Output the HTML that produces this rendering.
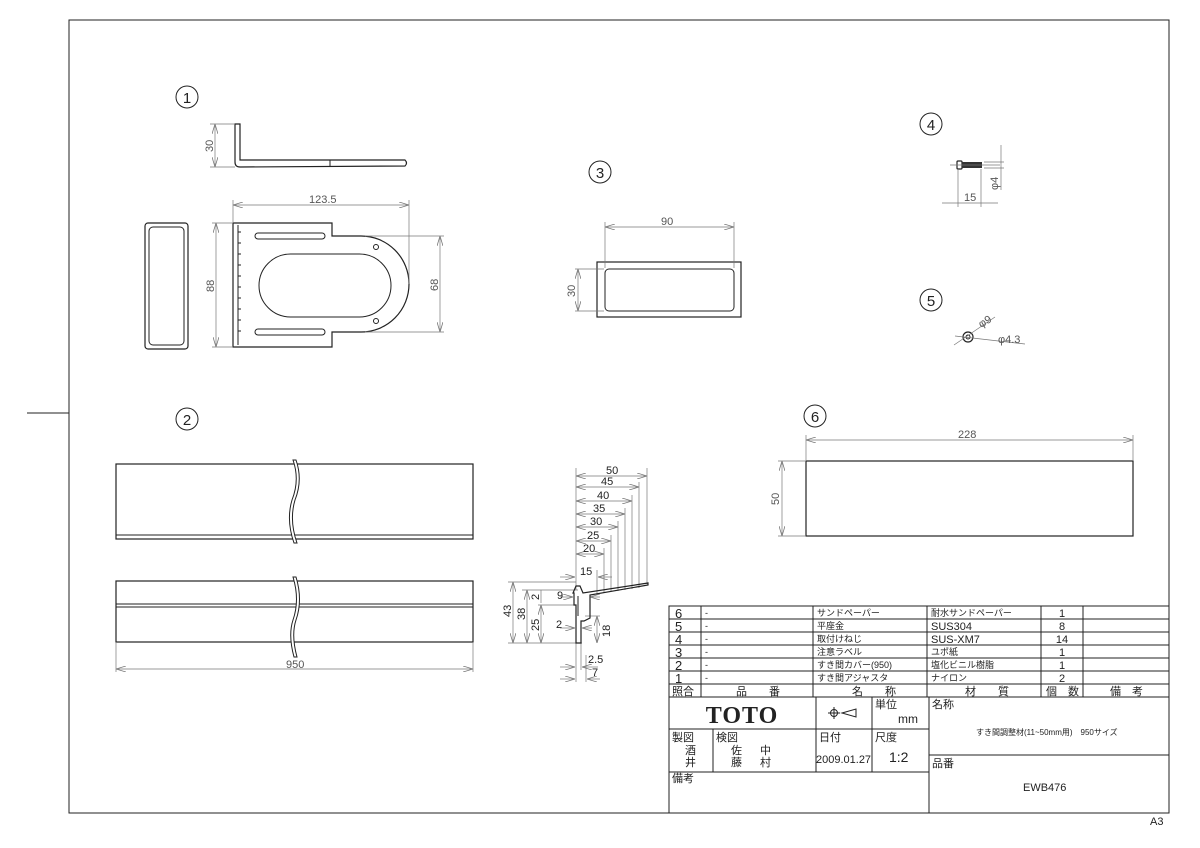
<!DOCTYPE html>
<html><head><meta charset="utf-8"><style>
html,body{margin:0;padding:0;background:#fff}
svg{display:block}
text{font-family:"Liberation Sans","Noto Sans CJK JP",sans-serif;fill:#222}
.d{stroke:#777;stroke-width:0.7;fill:none}
.k{stroke:#222;stroke-width:1.2;fill:none}
.t{stroke:#222;stroke-width:1;fill:none}
.dt{font-size:11px;fill:#555}
.tb{font-size:9px}
</style></head><body>
<svg width="1200" height="848" viewBox="0 0 1200 848">
<defs>
<marker id="a" viewBox="0 0 10 6" refX="10" refY="3" markerWidth="10" markerHeight="6" orient="auto-start-reverse" markerUnits="userSpaceOnUse"><path d="M0,0 L10,3 L0,6" fill="none" stroke="#777" stroke-width="0.8"/></marker>
</defs>
<rect x="69" y="20" width="1100" height="793" fill="none" stroke="#222" stroke-width="1"/>
<line x1="27" y1="413" x2="69" y2="413" stroke="#222"/>
<text x="1150" y="825" font-size="11">A3</text>

<g class="t"><circle cx="187" cy="97" r="11"/><circle cx="187" cy="419" r="11"/><circle cx="600" cy="172" r="11"/><circle cx="931" cy="124" r="11"/><circle cx="931" cy="300" r="11"/><circle cx="815" cy="416" r="11"/></g>
<g font-size="15" text-anchor="middle"><text x="187" y="103">1</text><text x="187" y="425">2</text><text x="600" y="178">3</text><text x="931" y="130">4</text><text x="931" y="306">5</text><text x="815" y="422">6</text></g>

<path class="k" d="M235,124 L240,124 L240,160 L405,160 Q408,163 405,166 L240,167 Q235,167 235,162 Z"/>
<line class="t" x1="330" y1="160" x2="330" y2="167"/>
<line class="d" x1="210" y1="124" x2="235" y2="124"/><line class="d" x1="210" y1="167" x2="235" y2="167"/>
<line class="d" x1="215" y1="124" x2="215" y2="167" marker-start="url(#a)" marker-end="url(#a)"/>
<text class="dt" transform="translate(213,152) rotate(-90)">30</text>
<path class="k" d="M233,223 L332,223 L332,236 L361,236 A48,48 0 0 1 361,332 L332,332 L332,347 L233,347 Z"/>
<path class="t" d="M238,225 L238,345" />
<g class="t"><path d="M238,232 h3 M238,243 h3 M238,254 h3 M238,265 h3 M238,276 h3 M238,287 h3 M238,298 h3 M238,309 h3 M238,320 h3 M238,331 h3"/></g>
<rect class="t" x="255" y="233" width="70" height="6" rx="3"/>
<rect class="t" x="255" y="329" width="70" height="6" rx="3"/>
<rect class="t" x="259" y="254" width="132" height="63" rx="31.5"/>
<circle class="t" cx="376" cy="247" r="2.5"/><circle class="t" cx="376" cy="321" r="2.5"/>
<line class="d" x1="233" y1="200" x2="233" y2="222"/><line class="d" x1="409" y1="200" x2="409" y2="284"/>
<line class="d" x1="233" y1="205" x2="409" y2="205" marker-start="url(#a)" marker-end="url(#a)"/>
<text class="dt" x="309" y="203">123.5</text>
<line class="d" x1="212" y1="223" x2="232" y2="223"/><line class="d" x1="212" y1="347" x2="232" y2="347"/>
<line class="d" x1="216" y1="223" x2="216" y2="347" marker-start="url(#a)" marker-end="url(#a)"/>
<text class="dt" transform="translate(214,292) rotate(-90)">88</text>
<line class="d" x1="365" y1="236" x2="444" y2="236"/><line class="d" x1="365" y1="332" x2="444" y2="332"/>
<line class="d" x1="440" y1="236" x2="440" y2="332" marker-start="url(#a)" marker-end="url(#a)"/>
<text class="dt" transform="translate(438,291) rotate(-90)">68</text>
<rect class="k" x="145" y="223" width="43" height="126" rx="3"/>
<rect class="t" x="149" y="227" width="35" height="118" rx="4"/>

<rect class="k" x="597" y="262" width="144" height="55"/>
<rect class="t" x="605" y="269" width="129" height="42" rx="4"/>
<line class="d" x1="605" y1="222" x2="605" y2="268"/><line class="d" x1="734" y1="222" x2="734" y2="268"/>
<line class="d" x1="605" y1="227" x2="734" y2="227" marker-start="url(#a)" marker-end="url(#a)"/>
<text class="dt" x="661" y="225">90</text>
<line class="d" x1="575" y1="269" x2="604" y2="269"/><line class="d" x1="575" y1="311" x2="604" y2="311"/>
<line class="d" x1="578" y1="269" x2="578" y2="311" marker-start="url(#a)" marker-end="url(#a)"/>
<text class="dt" transform="translate(575,297) rotate(-90)">30</text>

<rect class="k" x="957" y="161" width="5" height="8" rx="1"/>
<rect x="962" y="162" width="20" height="6" fill="#333"/>
<line class="d" x1="950" y1="165" x2="1000" y2="165"/>
<line class="d" x1="958" y1="169" x2="958" y2="207"/><line class="d" x1="981" y1="169" x2="981" y2="207"/>
<line class="d" x1="942" y1="203" x2="998" y2="203"/>
<text class="dt" x="964" y="201">15</text>
<line class="d" x1="984" y1="162" x2="1004" y2="162"/><line class="d" x1="984" y1="168" x2="1004" y2="168"/>
<line class="d" x1="1001" y1="145" x2="1001" y2="190"/>
<text class="dt" transform="translate(998,190) rotate(-90)">φ4</text>

<circle class="k" cx="968" cy="337" r="5"/><circle class="t" cx="968" cy="337" r="2"/>
<line class="d" x1="954" y1="345" x2="995" y2="317"/>
<line class="d" x1="955" y1="336" x2="1025" y2="344"/>
<text class="dt" transform="translate(981,328) rotate(-30)">φ9</text>
<text class="dt" x="998" y="343">φ4.3</text>

<rect class="k" x="806" y="461" width="327" height="75"/>
<line class="d" x1="806" y1="435" x2="806" y2="460"/><line class="d" x1="1133" y1="435" x2="1133" y2="460"/>
<line class="d" x1="806" y1="440" x2="1133" y2="440" marker-start="url(#a)" marker-end="url(#a)"/>
<text class="dt" x="958" y="438">228</text>
<line class="d" x1="778" y1="461" x2="805" y2="461"/><line class="d" x1="778" y1="536" x2="805" y2="536"/>
<line class="d" x1="782" y1="461" x2="782" y2="536" marker-start="url(#a)" marker-end="url(#a)"/>
<text class="dt" transform="translate(779,505) rotate(-90)">50</text>

<rect class="k" x="116" y="464" width="357" height="75"/>
<line class="t" x1="116" y1="535" x2="473" y2="535"/>
<rect class="k" x="116" y="581" width="357" height="61"/>
<line class="t" x1="116" y1="604" x2="473" y2="604"/><line class="t" x1="116" y1="607" x2="473" y2="607"/>
<g fill="#fff" stroke="#222" stroke-width="1">
<path d="M293,460 Q300,480 292,500 Q286,520 294,543 L297,543 Q289,520 295,500 Q303,480 296,460 Z"/>
<path d="M293,577 Q300,600 293,620 Q288,635 294,657 L297,657 Q291,635 296,620 Q303,600 296,577 Z"/>
</g>
<line class="d" x1="116" y1="669" x2="473" y2="669" marker-start="url(#a)" marker-end="url(#a)"/>
<line class="d" x1="116" y1="642" x2="116" y2="672"/><line class="d" x1="473" y1="642" x2="473" y2="672"/>
<text class="dt" x="286" y="668">950</text>

<g class="d">
<line x1="576" y1="468" x2="576" y2="590"/>
<line x1="576" y1="476" x2="647" y2="476" marker-start="url(#a)" marker-end="url(#a)"/>
<line x1="576" y1="487" x2="639" y2="487" marker-start="url(#a)" marker-end="url(#a)"/>
<line x1="576" y1="501" x2="632" y2="501" marker-start="url(#a)" marker-end="url(#a)"/>
<line x1="576" y1="514" x2="625" y2="514" marker-start="url(#a)" marker-end="url(#a)"/>
<line x1="576" y1="527" x2="618" y2="527" marker-start="url(#a)" marker-end="url(#a)"/>
<line x1="576" y1="541" x2="611" y2="541" marker-start="url(#a)" marker-end="url(#a)"/>
<line x1="576" y1="554" x2="604" y2="554" marker-start="url(#a)" marker-end="url(#a)"/>
<line x1="560" y1="577" x2="575" y2="577" marker-end="url(#a)"/><line x1="612" y1="577" x2="598" y2="577" marker-end="url(#a)"/>
<line x1="647" y1="468" x2="647" y2="584"/><line x1="639" y1="482" x2="639" y2="588"/><line x1="632" y1="495" x2="632" y2="589"/>
<line x1="625" y1="508" x2="625" y2="590"/><line x1="618" y1="521" x2="618" y2="591"/><line x1="611" y1="535" x2="611" y2="592"/>
<line x1="604" y1="548" x2="604" y2="593"/><line x1="597" y1="570" x2="597" y2="594"/>
<line x1="508" y1="582" x2="576" y2="582"/><line x1="522" y1="590" x2="578" y2="590"/><line x1="538" y1="605" x2="576" y2="605"/><line x1="508" y1="643" x2="582" y2="643"/>
<line x1="513" y1="582" x2="513" y2="643" marker-start="url(#a)" marker-end="url(#a)"/>
<line x1="527" y1="590" x2="527" y2="643" marker-start="url(#a)" marker-end="url(#a)"/>
<line x1="541" y1="605" x2="541" y2="643" marker-start="url(#a)" marker-end="url(#a)"/>
<line x1="541" y1="590" x2="541" y2="603"/>
<line x1="560" y1="597" x2="573" y2="597" marker-end="url(#a)"/><line x1="600" y1="597" x2="590" y2="597" marker-end="url(#a)"/>
<line x1="560" y1="628" x2="575" y2="628" marker-end="url(#a)"/><line x1="592" y1="628" x2="582" y2="628" marker-end="url(#a)"/>
<line x1="585" y1="616" x2="600" y2="616"/><line x1="597" y1="616" x2="597" y2="643" marker-start="url(#a)" marker-end="url(#a)"/>
<line x1="576" y1="643" x2="576" y2="682"/><line x1="581" y1="643" x2="581" y2="670"/><line x1="586" y1="655" x2="586" y2="682"/>
<line x1="560" y1="667" x2="575" y2="667" marker-end="url(#a)"/><line x1="598" y1="667" x2="582" y2="667" marker-end="url(#a)"/>
<line x1="560" y1="679" x2="575" y2="679" marker-end="url(#a)"/><line x1="600" y1="679" x2="587" y2="679" marker-end="url(#a)"/>
</g>
<path class="k" d="M576,586 L580,586 L583,593 L648,583 L648,585 L590,595 L590,618 L584,621 L581,621 L581,643 L576,643 L576,605 L574,605 L574,593 L573,593 Z"/>
<line class="t" x1="578" y1="596" x2="578" y2="616"/>
<g class="dt" font-size="10">
<text x="606" y="474">50</text><text x="601" y="485">45</text><text x="597" y="499">40</text><text x="593" y="512">35</text><text x="590" y="525">30</text><text x="587" y="539">25</text><text x="583" y="552">20</text><text x="580" y="575">15</text>
<text transform="translate(511,617) rotate(-90)">43</text><text transform="translate(525,620) rotate(-90)">38</text><text transform="translate(539,631) rotate(-90)">25</text><text transform="translate(539,600) rotate(-90)">2</text>
<text x="557" y="599">9</text><text x="556" y="628">2</text><text transform="translate(610,637) rotate(-90)">18</text>
<text x="588" y="663">2.5</text><text x="592" y="676">7</text>
</g>

<g stroke="#222" stroke-width="1" fill="none">
<rect x="669" y="606" width="500" height="207"/>
<path d="M669,619 H1169 M669,632 H1169 M669,645 H1169 M669,658 H1169 M669,671 H1169 M669,684 H1169 M669,697 H1169"/>
<path d="M701,606 V697 M813,606 V697 M927,606 V697 M1041,606 V697 M1083,606 V697"/>
<path d="M816,697 V772 M872,697 V772 M929,697 V813 M669,729 H929 M669,772 H929 M929,755 H1169 M713,729 V772"/>
</g>
<g class="tb">
<text x="675" y="618" font-size="13">6</text><text x="675" y="631" font-size="13">5</text><text x="675" y="644" font-size="13">4</text><text x="675" y="657" font-size="13">3</text><text x="675" y="670" font-size="13">2</text><text x="675" y="683" font-size="13">1</text>
<text x="705" y="616">-</text><text x="705" y="629">-</text><text x="705" y="642">-</text><text x="705" y="655">-</text><text x="705" y="668">-</text><text x="705" y="681">-</text>
<text x="817" y="616">サンドペーパー</text><text x="817" y="629">平座金</text><text x="817" y="642">取付けねじ</text><text x="817" y="655">注意ラベル</text><text x="817" y="668">すき間カバー(950)</text><text x="817" y="681">すき間アジャスタ</text>
<text x="931" y="616">耐水サンドペーパー</text><text x="931" y="630" font-size="11">SUS304</text><text x="931" y="643" font-size="11">SUS-XM7</text><text x="931" y="655">ユポ紙</text><text x="931" y="668">塩化ビニル樹脂</text><text x="931" y="681">ナイロン</text>
<g text-anchor="middle" font-size="11"><text x="1062" y="617">1</text><text x="1062" y="630">8</text><text x="1062" y="643">14</text><text x="1062" y="656">1</text><text x="1062" y="669">1</text><text x="1062" y="682">2</text></g>
<g font-size="11"><text x="672" y="695">照合</text><text x="736" y="695">品　　番</text><text x="852" y="695">名　　称</text><text x="965" y="695">材　　質</text><text x="1046" y="695">個　数</text><text x="1110" y="695">備　考</text></g>
<text x="742" y="723" text-anchor="middle" style="font-family:'Liberation Serif',serif;font-size:24px;font-weight:bold;letter-spacing:1px">TOTO</text>
<text x="875" y="708" font-size="11">単位</text><text x="898" y="723" font-size="12">mm</text>
<text x="932" y="708" font-size="11">名称</text>
<text x="976" y="735" font-size="8">すき間調整材(11~50mm用)　950サイズ</text>
<text x="672" y="741" font-size="11">製図</text><text x="716" y="741" font-size="11">検図</text><text x="819" y="741" font-size="11">日付</text><text x="875" y="741" font-size="11">尺度</text>
<text x="685" y="754" font-size="11">酒</text><text x="685" y="766" font-size="11">井</text>
<text x="731" y="754" font-size="11">佐</text><text x="731" y="766" font-size="11">藤</text><text x="760" y="754" font-size="11">中</text><text x="760" y="766" font-size="11">村</text>
<text x="816" y="763" font-size="11">2009.01.27</text><text x="889" y="762" font-size="14">1:2</text>
<text x="932" y="767" font-size="11">品番</text><text x="1023" y="791" font-size="11">EWB476</text>
<text x="672" y="782" font-size="11">備考</text>
</g>
<g stroke="#222" stroke-width="1" fill="none"><circle cx="834" cy="713" r="3.5"/><path d="M828,713 H840 M834,707 V719 M842,713 L856,709 L856,717 Z"/></g>
</svg>
</body></html>
